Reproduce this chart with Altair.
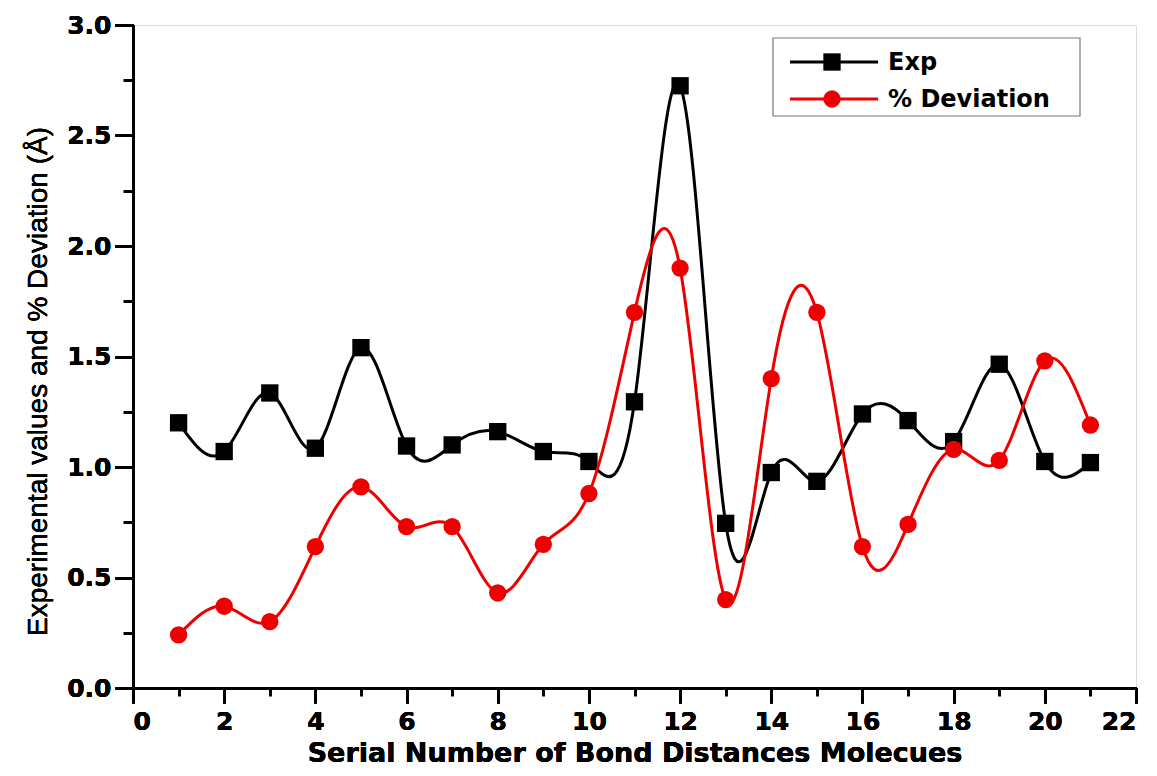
import altair as alt
import pandas as pd

# ---- data ----
serial = list(range(1, 22))
exp_vals = [1.20, 1.07, 1.335, 1.085, 1.54, 1.095, 1.10, 1.16, 1.07, 1.025, 1.295,
            2.725, 0.745, 0.975, 0.935, 1.24, 1.21, 1.115, 1.465, 1.025, 1.02]
dev_vals = [0.24, 0.37, 0.30, 0.64, 0.91, 0.73, 0.73, 0.43, 0.65, 0.88, 1.70,
            1.90, 0.40, 1.40, 1.70, 0.64, 0.74, 1.08, 1.03, 1.48, 1.19]
series_names = ["Exp", "% Deviation"]
series_colors = ["#000000", "#ee0000"]
series_shapes = ["square", "circle"]

x_major = list(range(0, 23, 2))
x_minor = list(range(1, 23, 2))
y_major = [0.0, 0.5, 1.0, 1.5, 2.0, 2.5, 3.0]
y_minor = [0.25, 0.75, 1.25, 1.75, 2.25, 2.75]

x_title = "Serial Number of Bond Distances Molecues"
y_title = "Experimental values and % Deviation (Å)"

df_exp = pd.DataFrame({"x": serial, "v": exp_vals, "series": series_names[0]})
df_dev = pd.DataFrame({"x": serial, "v": dev_vals, "series": series_names[1]})
df_all = pd.concat([df_exp, df_dev], ignore_index=True)

W, H = 1003, 663
LBL_FONT = "DejaVu Sans"

xs = alt.Scale(domain=[0, 22], nice=False, zero=False)
ys = alt.Scale(domain=[0, 3.0], nice=False, zero=False)

x_axis = alt.Axis(values=x_major, orient="bottom", tickSize=15, tickWidth=3, tickColor="black",
                  domainWidth=3, domainColor="black", grid=False, format="d",
                  labelFont=LBL_FONT, labelFontWeight="bold", labelFontSize=25, labelColor="black",
                  labelPadding=6, title=x_title, titleFont=LBL_FONT, titleFontWeight="bold",
                  titleFontSize=27, titleColor="black", titlePadding=6)
y_axis = alt.Axis(values=y_major, orient="left", tickSize=18, tickWidth=3, tickColor="black",
                  domainWidth=3, domainColor="black", grid=False, format=".1f",
                  labelFont=LBL_FONT, labelFontWeight="bold", labelFontSize=25, labelColor="black",
                  labelPadding=4, title=y_title, titleFont="Liberation Sans", titleFontWeight="normal",
                  titleFontSize=28, titleColor="black", titlePadding=14, titleY=356)

x_minor_axis = alt.Axis(values=x_minor, orient="bottom", tickSize=8, tickWidth=3, tickColor="black",
                        domain=False, labels=False, grid=False, title=None)
y_minor_axis = alt.Axis(values=y_minor, orient="left", tickSize=10, tickWidth=3, tickColor="black",
                        domain=False, labels=False, grid=False, title=None)


def series_layers(df, color, shape):
    line = alt.Chart(df).mark_line(interpolate="natural", strokeWidth=3, color=color).encode(
        x=alt.X("x:Q", scale=xs, axis=x_axis),
        y=alt.Y("v:Q", scale=ys, axis=y_axis),
    )
    pts = alt.Chart(df).mark_point(filled=True, opacity=1, size=300, shape=shape, color=color,
                                   strokeWidth=0).encode(
        x=alt.X("x:Q", scale=xs, axis=x_axis),
        y=alt.Y("v:Q", scale=ys, axis=y_axis),
    )
    return [line, pts]


layers = []
layers += series_layers(df_exp, series_colors[0], series_shapes[0])
layers += series_layers(df_dev, series_colors[1], series_shapes[1])

minor = alt.Chart(df_all).mark_point(opacity=0).encode(
    x=alt.X("x:Q", scale=xs, axis=x_minor_axis),
    y=alt.Y("v:Q", scale=ys, axis=y_minor_axis),
)

# ---- legend (drawn in the plot's pixel space) ----
one = pd.DataFrame({"k": [0]})
leg_box = alt.Chart(one).mark_rect(fill="white", stroke="#777777", strokeWidth=1.2).encode(
    x=alt.value(640), x2=alt.value(947), y=alt.value(13), y2=alt.value(91))
leg_layers = [leg_box]
for i, (name, col, shp) in enumerate(zip(series_names, series_colors, series_shapes)):
    yy = 37 + i * 37
    leg_layers.append(alt.Chart(one).mark_rule(color=col, strokeWidth=3).encode(
        x=alt.value(657), x2=alt.value(745), y=alt.value(yy)))
    leg_layers.append(alt.Chart(one).mark_point(filled=True, opacity=1, size=300, shape=shp,
                                                color=col, strokeWidth=0).encode(
        x=alt.value(699), y=alt.value(yy)))
    leg_layers.append(alt.Chart(one).mark_text(align="left", baseline="middle", font=LBL_FONT,
                                               fontWeight="bold", fontSize=24, color="black").encode(
        x=alt.value(755), y=alt.value(yy + 1), text=alt.value(name)))

chart = alt.layer(minor, *layers, *leg_layers).resolve_axis(
    x="independent", y="independent"
).properties(
    width=W, height=H,
    autosize=alt.AutoSizeParams(type="none"),
    padding={"left": 125, "top": 17, "right": 13, "bottom": 80},
).configure_view(stroke="black", strokeWidth=3).configure(background="white")

chart.save("out.html", embed_options={"renderer": "svg", "actions": False})
